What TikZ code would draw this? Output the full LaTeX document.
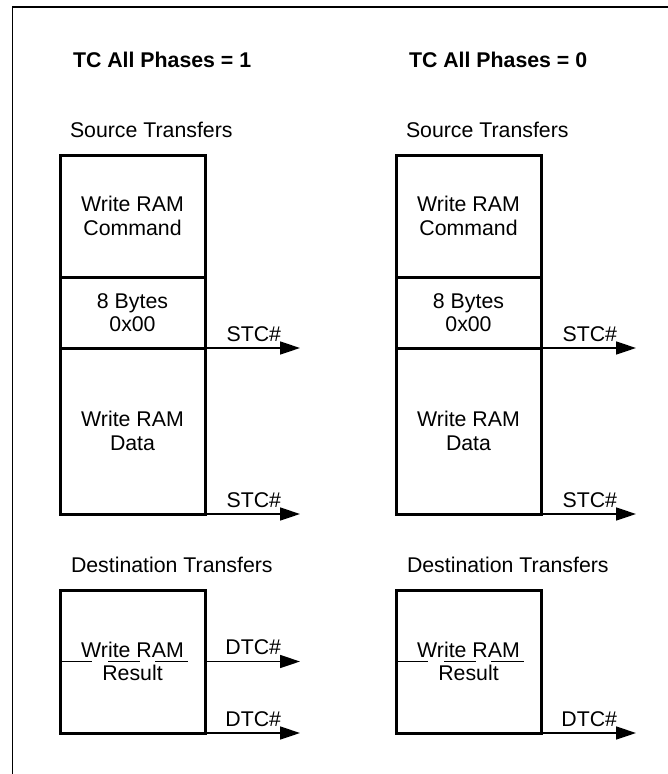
\documentclass[tikz,border=0pt]{standalone}
\usepackage{fontspec}
\setmainfont{Liberation Sans}
\usetikzlibrary{arrows.meta}
\begin{document}
\begin{tikzpicture}[x=1pt,y=-1pt,
  txt/.style={font=\fontsize{21.3}{23.5}\selectfont, inner sep=0pt, outer sep=0pt},
  ttl/.style={txt, font=\fontsize{21.3}{23.5}\selectfont\bfseries, anchor=base west},
  hdr/.style={txt, anchor=base west},
  blk/.style={txt, draw, line width=3pt, minimum width=145pt, align=center, anchor=north west},
  lbl/.style={txt, anchor=base east},
  arr/.style={line width=1.6pt, -{Triangle[length=20pt,width=13pt]}},
  thin/.style={line width=1.6pt}
]
\useasboundingbox (0,0) rectangle (668,774);
\draw[line width=1.6pt] (12.5,774) -- (12.5,7) -- (668,7);
\foreach \ox/\c/\v in {0/L/1,336/R/0}{
  \node[ttl] (title\c) at (73+\ox,67) {TC All Phases = \v};
  \node[hdr] (src\c) at (70+\ox,137) {Source Transfers};
  \node[blk, minimum height=122pt] (cmd\c) at (60+\ox,155) {Write RAM\\Command};
  \node[blk, minimum height=71pt] (bytes\c) at (60+\ox,277) {8 Bytes\\0x00};
  \node[blk, minimum height=166pt] (data\c) at (60+\ox,348) {Write RAM\\Data};
  \node[hdr] (dst\c) at (71+\ox,572) {Destination Transfers};
  \node[blk, minimum height=143pt] (dest\c) at (60+\ox,590) {Write RAM\\Result};
  \coordinate (tipA\c) at (300+\ox,348);
  \coordinate (tipB\c) at (300+\ox,514);
  \coordinate (tipD\c) at (300+\ox,733);
  \draw[arr] (bytes\c.south east) -- (tipA\c);
  \draw[arr] (data\c.south east) -- (tipB\c);
  \draw[arr] (dest\c.south east) -- (tipD\c);
  \node[lbl] (stcA\c) at (281+\ox,341) {STC\#};
  \node[lbl] (stcB\c) at (281+\ox,507) {STC\#};
  \node[lbl] (dtcD\c) at (281+\ox,726) {DTC\#};
  \draw[thin] (60+\ox,661.5) -- (92+\ox,661.5);
  \draw[thin] (108+\ox,661.5) -- (140+\ox,661.5);
  \draw[thin] (155+\ox,661.5) -- (188+\ox,661.5);
}
\coordinate (tipCL) at (300,661.5);
\draw[arr] (destL.east) -- (tipCL);
\node[lbl] (dtcCL) at (281,654) {DTC\#};
\end{tikzpicture}
\end{document}
